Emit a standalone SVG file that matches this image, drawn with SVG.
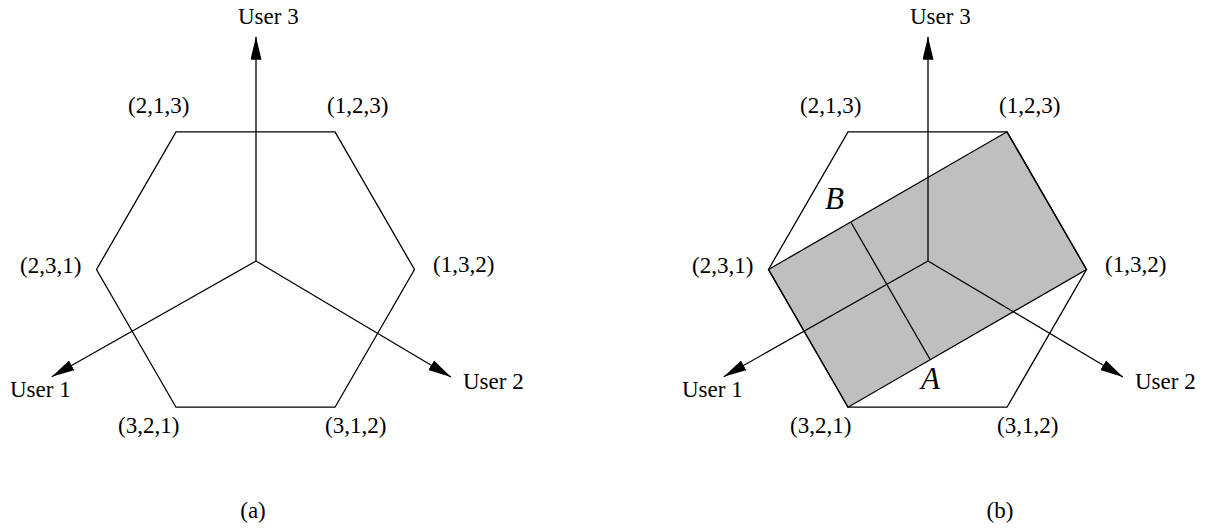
<svg xmlns="http://www.w3.org/2000/svg" width="1210" height="529" viewBox="0 0 1210 529">
<style>
.edge{fill:none;stroke:#000;stroke-width:1.3;stroke-linejoin:miter}
.axis{fill:none;stroke:#000;stroke-width:1.3;marker-end:url(#arrow)}
.lbl{font-family:"Liberation Serif","Times New Roman",serif;font-size:23px;fill:#000}
.var{font-family:"Liberation Serif","Times New Roman",serif;font-size:31px;font-style:italic;fill:#000}
.region{fill:#bfbfbf;stroke:#000;stroke-width:1.3}
</style>
<defs>
<marker id="arrow" viewBox="0 0 23 11" refX="23" refY="5.5" markerWidth="23" markerHeight="11" markerUnits="userSpaceOnUse" orient="auto">
<path d="M0,0 L23,5.5 L0,11 Z" fill="#000"/>
</marker>
</defs>
<rect width="1210" height="529" fill="#fff"/>

<!-- Panel (a) -->
<g id="panel-a">
<g id="hexagon-a">
<polygon class="edge" points="96.5,269.5 176,131.8 335,131.8 414.5,269.5 335,407.2 176,407.2"/>
</g>
<g id="connectors-a">
<line class="axis" x1="256" y1="261" x2="256" y2="36.7"/>
<line class="axis" x1="256" y1="261" x2="51.7" y2="376.7"/>
<line class="axis" x1="256" y1="261" x2="451" y2="377"/>
</g>
<g id="label-a-user3"><text class="lbl" x="238" y="24">User 3</text></g>
<g id="label-a-user1"><text class="lbl" x="10" y="397">User 1</text></g>
<g id="label-a-user2"><text class="lbl" x="463" y="389">User 2</text></g>
<g id="label-a-213"><text class="lbl" x="128" y="113">(2,1,3)</text></g>
<g id="label-a-123"><text class="lbl" x="327" y="113">(1,2,3)</text></g>
<g id="label-a-231"><text class="lbl" x="20" y="273">(2,3,1)</text></g>
<g id="label-a-132"><text class="lbl" x="433" y="272">(1,3,2)</text></g>
<g id="label-a-321"><text class="lbl" x="118" y="433">(3,2,1)</text></g>
<g id="label-a-312"><text class="lbl" x="325" y="433">(3,1,2)</text></g>
<g id="caption-a"><text class="lbl" x="253" y="518" text-anchor="middle">(a)</text></g>
</g>

<!-- Panel (b) -->
<g id="panel-b">
<g id="region-b">
<polygon class="region" points="768.5,269.5 1007,131.8 1086.5,269.5 848,407.2"/>
</g>
<g id="hexagon-b">
<polygon class="edge" points="768.5,269.5 848,131.8 1007,131.8 1086.5,269.5 1007,407.2 848,407.2"/>
</g>
<g id="divider-b">
<line class="edge" x1="850.8" y1="222" x2="930.3" y2="359.7"/>
</g>
<g id="connectors-b">
<line class="axis" x1="928" y1="261" x2="928" y2="36.7"/>
<line class="axis" x1="928" y1="261" x2="723.7" y2="376.7"/>
<line class="axis" x1="928" y1="261" x2="1123" y2="377"/>
</g>
<g id="label-b-user3"><text class="lbl" x="910" y="24">User 3</text></g>
<g id="label-b-user1"><text class="lbl" x="682" y="397">User 1</text></g>
<g id="label-b-user2"><text class="lbl" x="1135" y="389">User 2</text></g>
<g id="label-b-213"><text class="lbl" x="800" y="113">(2,1,3)</text></g>
<g id="label-b-123"><text class="lbl" x="999" y="113">(1,2,3)</text></g>
<g id="label-b-231"><text class="lbl" x="692" y="273">(2,3,1)</text></g>
<g id="label-b-132"><text class="lbl" x="1105" y="272">(1,3,2)</text></g>
<g id="label-b-321"><text class="lbl" x="790" y="433">(3,2,1)</text></g>
<g id="label-b-312"><text class="lbl" x="997" y="433">(3,1,2)</text></g>
<g id="label-B"><text class="var" x="825" y="209">B</text></g>
<g id="label-A"><text class="var" x="921" y="389">A</text></g>
<g id="caption-b"><text class="lbl" x="1000" y="518" text-anchor="middle">(b)</text></g>
</g>
</svg>
